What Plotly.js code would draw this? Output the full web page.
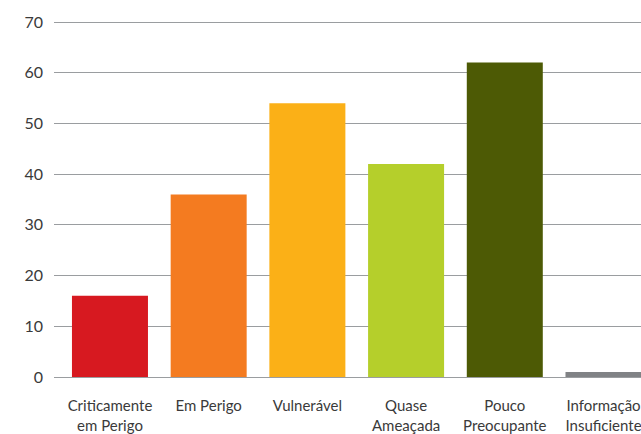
<!DOCTYPE html>
<html>
<head>
<meta charset="utf-8">
<script src="https://cdn.plot.ly/plotly-3.0.1.min.js"></script>
<style>html,body{margin:0;padding:0;background:#fff;overflow:hidden}#chart{width:641px;height:434px}</style>
</head>
<body>
<div id="chart"></div>
<script>
const categories = ["Criticamente<br>em Perigo", "Em Perigo", "Vulnerável", "Quase<br>Ameaçada", "Pouco<br>Preocupante", "Informação<br>Insuficiente"];
const values = [16, 36, 54, 42, 62, 1];
const barColors = ["#d71920", "#f47b20", "#fbb017", "#b5cf2b", "#4d5a05", "#808285"];
const yTicks = [0, 10, 20, 30, 40, 50, 60, 70];

const idx = categories.map((c, i) => i);
Plotly.newPlot('chart', [{
  type: 'bar',
  x: idx,
  y: values,
  marker: {color: barColors},
  width: 0.77,
  hoverinfo: 'none'
}], {
  width: 641, height: 434,
  margin: {l: 54, r: 0, t: 21, b: 57, pad: 0},
  paper_bgcolor: '#fff', plot_bgcolor: '#fff',
  showlegend: false,
  font: {family: 'Lato, "Open Sans", sans-serif', size: 15, color: '#3a3a3a'},
  xaxis: {
    tickmode: 'array', tickvals: idx, ticktext: categories,
    range: [-0.567, 5.38], showgrid: false, zeroline: false, showline: false,
    ticks: '', ticklabelstandoff: 18, ticklabeloverflow: 'allow', fixedrange: true
  },
  yaxis: {
    range: [0, 70.2], tickmode: 'array', tickvals: yTicks,
    tickfont: {size: 16},
    showgrid: true, gridcolor: '#9a9da0', gridwidth: 1,
    zeroline: true, zerolinecolor: '#9a9da0', zerolinewidth: 1,
    showline: false, ticks: '', ticklabelstandoff: 10, fixedrange: true
  },
  bargap: 0.23
}, {staticPlot: true});
</script>
</body>
</html>
